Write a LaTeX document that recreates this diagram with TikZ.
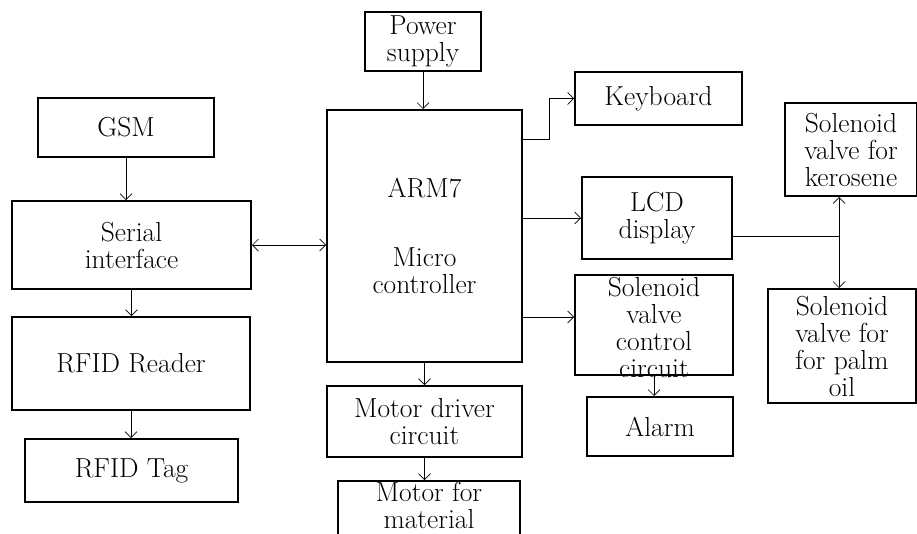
\documentclass[tikz,border=0pt]{standalone}
\usetikzlibrary{arrows.meta}
\begin{document}
\begin{tikzpicture}[x=1pt, y=-1pt]
	\tikzstyle{txt}=[align=center, inner sep=0pt, font=\fontsize{27.5}{27}\selectfont]
	\tikzstyle{block}=[txt, draw, line width=2pt]
	\tikzstyle{arr}=[line width=0.7pt, -{Straight Barb[length=6pt,width=12pt]}]
	\tikzstyle{both}=[line width=0.7pt, {Straight Barb[length=6pt,width=12pt]}-{Straight Barb[length=6pt,width=12pt]}]
	\useasboundingbox (0,0) rectangle (917,533);
	
	\node[block, minimum width=176pt, minimum height=59pt] (GSM) at (126,127.5) {GSM};
	\node[block, minimum width=239pt, minimum height=88pt] (Serial) at (131.5,245) {Serial\\interface};
	\node[block, minimum width=238pt, minimum height=93pt] (Reader) at (131,363.5) {RFID Reader};
	\node[block, minimum width=213pt, minimum height=63pt] (Tag) at (131.5,470.5) {RFID Tag};
	
	\node[block, minimum width=116pt, minimum height=59pt] (Power) at (423,41.5) {Power\\supply};
	\node[block, minimum width=195pt, minimum height=252pt] (ARM) at (424.5,236) {ARM7\\[42pt]Micro\\controller};
	\node[block, minimum width=195pt, minimum height=71pt] (Driver) at (424.5,421.5) {Motor driver\\circuit};
	\node[block, minimum width=182pt, inner ysep=1pt, anchor=north] (Motor) at (429,480) {Motor for\\material\\[10pt]};
	
	\node[block, minimum width=167pt, minimum height=53pt] (Keyboard) at (658.5,98.5) {Keyboard};
	\node[block, minimum width=150pt, minimum height=82pt] (LCD) at (657,218) {LCD\\display};
	\node[block, minimum width=158pt, minimum height=100pt] (Ctrl) at (654,325) {};
	\node[txt] (Ctrl-text) at ([yshift=-2pt]Ctrl.center) {Solenoid\\valve\\control\\circuit};
	\node[block, minimum width=146pt, minimum height=59pt] (Alarm) at (660,426.5) {Alarm};
	
	\node[block, minimum width=132pt, minimum height=93pt] (Kero) at (851,149.5) {Solenoid\\valve for\\kerosene};
	\node[block, minimum width=148pt, minimum height=114pt] (Palm) at (842,346) {Solenoid\\valve for\\for palm\\oil};
	
	\coordinate (Join) at (839,236);
	
	\draw[arr] (GSM.south) -- (GSM.south |- Serial.north);
	\draw[arr] (Serial.south) -- (Serial.south |- Reader.north);
	\draw[arr] (Reader.south) -- (Reader.south |- Tag.north);
	\draw[both] (Serial.east) -- (Serial.east -| ARM.west);
	
	\draw[arr] (Power.south) -- (Power.south |- ARM.north);
	\draw[arr] (ARM.south) -- (Driver.north);
	\draw[arr] (Driver.south) -- (Driver.south |- Motor.north);
	
	\draw[arr] ([yshift=-30pt]ARM.north east) -- ++(26,0) |- (Keyboard.west);
	\draw[arr] (ARM.east |- LCD.west) -- (LCD.west);
	\draw[arr] (ARM.east |- Ctrl.west) ++(0,-8) -- ([yshift=8pt]Ctrl.west);
	\draw[arr] (Ctrl.south) -- (Ctrl.south |- Alarm.north);
	
	\draw[line width=0.7pt] (LCD.east |- Join) -- (Join);
	\draw[both] (Kero.south -| Join) -- (Palm.north -| Join);
\end{tikzpicture}
\end{document}
